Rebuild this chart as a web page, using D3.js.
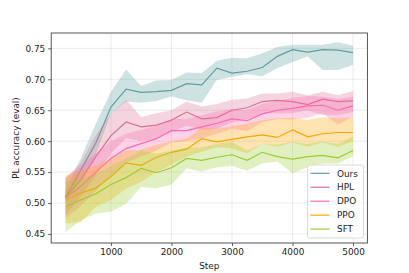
<!DOCTYPE html>
<html><head><meta charset="utf-8">
<script src="https://cdn.jsdelivr.net/npm/d3@7"></script>
<style>body{margin:0;background:#fff}svg{display:block}</style>
</head><body><svg id="c" width="409" height="273"></svg>
<script>
const steps = [250,500,750,1000,1250,1500,1750,2000,2250,2500,2750,3000,3250,3500,3750,4000,4250,4500,4750,5000];
const xTicks = [1000,2000,3000,4000,5000];
const yTicks = [0.45,0.50,0.55,0.60,0.65,0.70,0.75];
const seriesNames = ["Ours","HPL","DPO","PPO","SFT"];
const seriesColors = ["#5f9ea0","#db7093","#ff69b4","#ffa500","#9acd32"];

const ours   = [0.510,0.553,0.597,0.655,0.684,0.679,0.680,0.682,0.693,0.691,0.718,0.710,0.713,0.719,0.737,0.748,0.744,0.748,0.747,0.743];
const oursLo = [0.500,0.538,0.578,0.645,0.664,0.662,0.665,0.672,0.666,0.662,0.699,0.704,0.708,0.705,0.718,0.728,0.737,0.715,0.715,0.723];
const oursHi = [0.522,0.572,0.628,0.680,0.716,0.689,0.698,0.699,0.711,0.710,0.730,0.735,0.734,0.742,0.752,0.756,0.756,0.756,0.760,0.754];

const hpl   = [0.510,0.537,0.575,0.609,0.631,0.623,0.626,0.634,0.647,0.636,0.638,0.650,0.654,0.664,0.666,0.664,0.659,0.668,0.664,0.665];
const hplLo = [0.480,0.510,0.545,0.580,0.605,0.600,0.605,0.615,0.625,0.618,0.620,0.630,0.635,0.645,0.645,0.645,0.650,0.642,0.642,0.647];
const hplHi = [0.540,0.565,0.610,0.645,0.667,0.639,0.645,0.650,0.664,0.656,0.660,0.667,0.669,0.677,0.677,0.680,0.674,0.680,0.674,0.681];

const dpo   = [0.508,0.527,0.550,0.572,0.588,0.596,0.604,0.617,0.617,0.623,0.629,0.636,0.633,0.644,0.650,0.653,0.657,0.658,0.650,0.657];
const dpoLo = [0.475,0.495,0.520,0.545,0.565,0.575,0.585,0.598,0.600,0.605,0.612,0.620,0.616,0.631,0.636,0.635,0.638,0.645,0.627,0.640];
const dpoHi = [0.540,0.560,0.580,0.600,0.612,0.618,0.625,0.636,0.636,0.642,0.648,0.652,0.650,0.660,0.665,0.670,0.673,0.672,0.668,0.672];

const ppo   = [0.505,0.516,0.524,0.543,0.565,0.561,0.574,0.582,0.587,0.604,0.599,0.603,0.607,0.610,0.606,0.618,0.607,0.612,0.614,0.614];
const ppoLo = [0.467,0.469,0.494,0.505,0.523,0.534,0.550,0.562,0.575,0.583,0.590,0.588,0.580,0.596,0.591,0.598,0.591,0.598,0.591,0.600];
const ppoHi = [0.545,0.552,0.560,0.572,0.585,0.586,0.594,0.600,0.604,0.622,0.620,0.624,0.628,0.634,0.637,0.638,0.634,0.639,0.637,0.639];

const sft   = [0.494,0.505,0.515,0.530,0.541,0.556,0.549,0.557,0.572,0.569,0.574,0.578,0.569,0.582,0.575,0.571,0.575,0.577,0.573,0.585];
const sftLo = [0.453,0.472,0.483,0.486,0.499,0.526,0.524,0.530,0.556,0.551,0.558,0.560,0.552,0.564,0.567,0.548,0.558,0.564,0.564,0.575];
const sftHi = [0.535,0.538,0.547,0.560,0.572,0.585,0.580,0.585,0.590,0.590,0.596,0.599,0.585,0.596,0.594,0.599,0.596,0.599,0.596,0.607];

const series = [
  {name:seriesNames[0], color:seriesColors[0], mean:ours, lo:oursLo, hi:oursHi},
  {name:seriesNames[1], color:seriesColors[1], mean:hpl,  lo:hplLo,  hi:hplHi},
  {name:seriesNames[2], color:seriesColors[2], mean:dpo,  lo:dpoLo,  hi:dpoHi},
  {name:seriesNames[3], color:seriesColors[3], mean:ppo,  lo:ppoLo,  hi:ppoHi},
  {name:seriesNames[4], color:seriesColors[4], mean:sft,  lo:sftLo,  hi:sftHi}
];

const L=51.2, R=367.4, T=33, B=243;
const svg = d3.select("#c");
const font = "DejaVu Sans, sans-serif";
const x = d3.scaleLinear().domain([12.5,5237.5]).range([L,R]);
const y = d3.scaleLinear().domain([0.4354,0.7748]).range([B,T]);

// grid
const g = svg.append("g");
g.selectAll(".gx").data(xTicks).enter().append("line")
  .attr("x1",d=>x(d)).attr("x2",d=>x(d)).attr("y1",T).attr("y2",B)
  .attr("stroke","#b0b0b0").attr("stroke-opacity",0.3).attr("stroke-width",0.8);
g.selectAll(".gy").data(yTicks).enter().append("line")
  .attr("x1",L).attr("x2",R).attr("y1",d=>y(d)).attr("y2",d=>y(d))
  .attr("stroke","#b0b0b0").attr("stroke-opacity",0.3).attr("stroke-width",0.8);

const area = d3.area().x((d,i)=>x(steps[i])).y0(d=>y(d[0])).y1(d=>y(d[1]));
const line = d3.line().x((d,i)=>x(steps[i])).y(d=>y(d));

series.forEach(s=>{
  svg.append("path").attr("d", line(s.mean)).attr("fill","none")
    .attr("stroke", s.color).attr("stroke-width",1.2);
  svg.append("path").attr("d", area(s.lo.map((v,i)=>[v,s.hi[i]])))
    .attr("fill", s.color).attr("fill-opacity",0.3).attr("stroke","none");
});

// axes
const xAxis = d3.axisBottom(x).tickValues(xTicks).tickSize(3).tickPadding(3).tickFormat(d3.format("d"));
const yAxis = d3.axisLeft(y).tickValues(yTicks).tickSize(3).tickPadding(3).tickFormat(d3.format(".2f"));
const gx = svg.append("g").attr("transform",`translate(0,${B})`).call(xAxis);
const gy = svg.append("g").attr("transform",`translate(${L},0)`).call(yAxis);
[gx,gy].forEach(a=>{
  a.select(".domain").remove();
  a.selectAll("line").attr("stroke","#333").attr("stroke-width",0.8);
  a.selectAll("text").attr("font-family",font).attr("font-size","8.9px").attr("fill","#222");
});

// frame
svg.append("rect").attr("x",L).attr("y",T).attr("width",R-L).attr("height",B-T)
  .attr("fill","none").attr("stroke","#444").attr("stroke-width",0.9);

// labels
svg.append("text").attr("x",(L+R)/2).attr("y",269).attr("text-anchor","middle")
  .attr("font-family",font).attr("font-size","8.9px").attr("fill","#222").text("Step");
svg.append("text").attr("transform",`translate(18.5,${(T+B)/2}) rotate(-90)`).attr("text-anchor","middle")
  .attr("font-family",font).attr("font-size","8.9px").attr("fill","#222").text("PL accuracy (eval)");

// legend
const lg = svg.append("g");
lg.append("rect").attr("x",307.5).attr("y",165).attr("width",56).attr("height",73).attr("rx",2)
  .attr("fill","#fff").attr("fill-opacity",0.8).attr("stroke","#d0d0d0").attr("stroke-width",0.8);
series.forEach((s,i)=>{
  const yy = 173.3 + i*13.95;
  lg.append("line").attr("x1",310.5).attr("x2",329.5).attr("y1",yy).attr("y2",yy)
    .attr("stroke",s.color).attr("stroke-width",1.2);
  lg.append("text").attr("x",337).attr("y",yy+3.2).attr("font-family",font).attr("font-size","8.9px")
    .attr("fill","#222").text(s.name);
});
</script></body></html>
